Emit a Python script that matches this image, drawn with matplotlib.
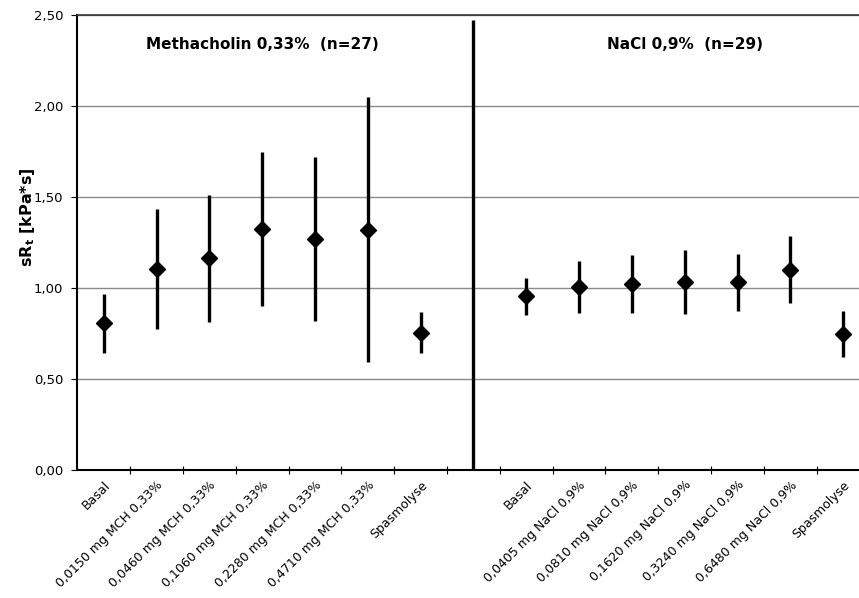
import matplotlib.pyplot as plt
import numpy as np

# Kategorien (Position 7 ist der leere Trenner zwischen den Gruppen)
mch_labels = [
    "Basal",
    "0,0150 mg MCH 0,33%",
    "0,0460 mg MCH 0,33%",
    "0,1060 mg MCH 0,33%",
    "0,2280 mg MCH 0,33%",
    "0,4710 mg MCH 0,33%",
    "Spasmolyse",
]
nacl_labels = [
    "Basal",
    "0,0405 mg NaCl 0,9%",
    "0,0810 mg NaCl 0,9%",
    "0,1620 mg NaCl 0,9%",
    "0,3240 mg NaCl 0,9%",
    "0,6480 mg NaCl 0,9%",
    "Spasmolyse",
]

# Methacholin: Mittelwert, obere und untere Grenze
mch_mean = [0.806, 1.103, 1.163, 1.326, 1.269, 1.319, 0.755]
mch_upper = [0.965, 1.432, 1.511, 1.749, 1.722, 2.051, 0.870]
mch_lower = [0.645, 0.773, 0.815, 0.903, 0.821, 0.595, 0.645]

# NaCl
nacl_mean = [0.956, 1.007, 1.022, 1.035, 1.031, 1.100, 0.745]
nacl_upper = [1.054, 1.149, 1.181, 1.210, 1.188, 1.284, 0.875]
nacl_lower = [0.852, 0.862, 0.862, 0.858, 0.873, 0.915, 0.620]

separator_top = 2.47

labels = mch_labels + [""] + nacl_labels
x_mch = np.arange(len(mch_labels))
x_sep = len(mch_labels)
x_nacl = np.arange(len(nacl_labels)) + len(mch_labels) + 1

plt.rcParams["font.family"] = ["DejaVu Sans"]

fig = plt.figure(figsize=(8.59, 5.98), dpi=100)
ax = fig.add_axes([0.09, 0.214, 0.91, 0.761])


def draw_group(x, mean, lower, upper):
    mean = np.array(mean)
    yerr = [mean - np.array(lower), np.array(upper) - mean]
    ax.errorbar(
        x,
        mean,
        yerr=yerr,
        fmt="D",
        color="black",
        markersize=8,
        elinewidth=2.4,
        capsize=0,
        zorder=5,
    )


draw_group(x_mch, mch_mean, mch_lower, mch_upper)
draw_group(x_nacl, nacl_mean, nacl_lower, nacl_upper)

# Trennlinie zwischen den beiden Gruppen
ax.vlines(x_sep, -0.01, separator_top, color="black", linewidth=2.4, zorder=6)

yticks = np.arange(0, 2.51, 0.5)
ax.set_yticks(yticks)
ax.set_yticklabels([f"{v:.2f}".replace(".", ",") for v in yticks], fontsize=9.5)
ax.tick_params(axis="y", direction="out", length=4, width=0.8, pad=6)

ax.set_xticks(np.arange(len(labels)))
ax.set_xticklabels(labels, rotation=45, ha="right", va="top",
                   rotation_mode="anchor", fontsize=9)
ax.tick_params(axis="x", which="major", length=0, pad=6)
ax.set_xticks(np.arange(len(labels)) + 0.5, minor=True)
ax.tick_params(axis="x", which="minor", direction="inout", length=6, width=0.8)

# Grenzen erst nach den Ticks setzen (set_xticks erweitert sonst den Bereich)
ax.set_xlim(-0.5, 14.3)
ax.set_ylim(0, 2.5)

ax.yaxis.grid(True, color="#8a8a8a", linewidth=1.0)
ax.set_axisbelow(True)

ax.spines["right"].set_visible(False)
ax.spines["left"].set_linewidth(1.5)
ax.spines["bottom"].set_linewidth(1.5)
ax.spines["top"].set_linewidth(1.2)
ax.spines["top"].set_color("#333333")

ax.set_ylabel("sR$_\\mathregular{t}$ [kPa*s]", fontsize=11.5, fontweight="bold")
ax.yaxis.set_label_coords(-0.052, 0.555)

ax.text(3, 2.335, "Methacholin 0,33%  (n=27)", ha="center", va="center",
        fontsize=11, fontweight="bold")
ax.text(11, 2.335, "NaCl 0,9%  (n=29)", ha="center", va="center",
        fontsize=11, fontweight="bold")

fig.savefig("out.png", dpi=100)
